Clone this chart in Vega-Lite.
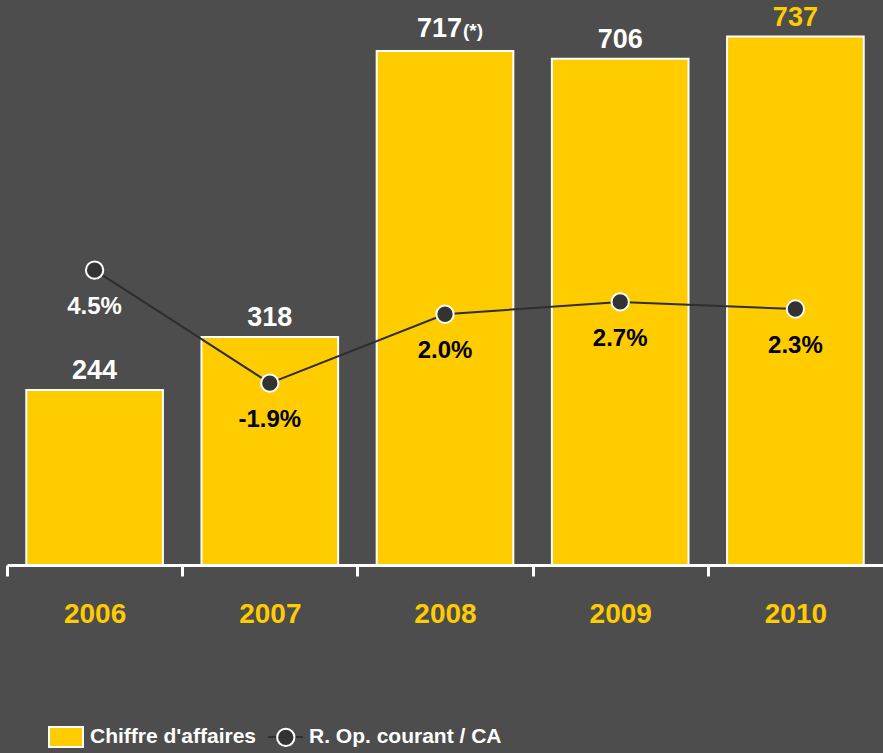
{
  "$schema": "https://vega.github.io/schema/vega-lite/v6.json",
  "width": 876,
  "height": 565,
  "autosize": {"type": "none"},
  "padding": {"left": 7, "top": 0, "right": 0, "bottom": 188},
  "background": "#4d4d4d",
  "config": {"view": {"stroke": null}, "font": "Liberation Sans"},
  "data": {
    "values": [
      {"year": "2006", "ca": 244, "caLabel": "244", "note": "", "pct": 4.5, "pctLabel": "4.5%"},
      {"year": "2007", "ca": 318, "caLabel": "318", "note": "", "pct": -1.9, "pctLabel": "-1.9%"},
      {"year": "2008", "ca": 717, "caLabel": "717", "note": "(*)", "pct": 2.0, "pctLabel": "2.0%"},
      {"year": "2009", "ca": 706, "caLabel": "706", "note": "", "pct": 2.7, "pctLabel": "2.7%"},
      {"year": "2010", "ca": 737, "caLabel": "737", "note": "", "pct": 2.3, "pctLabel": "2.3%"}
    ]
  },
  "resolve": {"scale": {"y": "independent"}},
  "layer": [
    {
      "encoding": {
        "x": {
          "field": "year", "type": "nominal",
          "scale": {"paddingInner": 0.22, "paddingOuter": 0.11},
          "axis": {
            "title": null, "labelAngle": 0,
            "domainColor": "white", "domainWidth": 3,
            "tickColor": "white", "tickWidth": 3, "tickSize": 11,
            "tickOffset": -87.6, "labelOffset": 87.6,
            "labelColor": "#FFCC00", "labelFont": "Liberation Sans", "labelFontWeight": "bold",
            "labelFontSize": 28, "labelPadding": 24
          }
        },
        "y": {"field": "ca", "type": "quantitative", "scale": {"domain": [0, 788]}, "axis": null}
      },
      "layer": [
        {
          "mark": {"type": "bar", "stroke": "white", "strokeWidth": 2},
          "encoding": {
            "color": {
              "datum": "Chiffre d'affaires",
              "scale": {"range": ["#FFCC00"]},
              "legend": {
                "title": null, "orient": "none", "legendX": 41, "legendY": 719, "padding": 0,
                "symbolType": "M-1,-0.59H1V0.59H-1Z", "symbolSize": 1156,
                "symbolStrokeColor": "white", "symbolStrokeWidth": 2, "symbolOpacity": 1,
                "labelColor": "white", "labelFont": "Liberation Sans", "labelFontWeight": "bold",
                "labelFontSize": 21, "labelOffset": 6, "labelLimit": 400
              }
            }
          }
        },
        {
          "transform": [{"filter": "datum.note === ''"}],
          "mark": {"type": "text", "fontSize": 27, "fontWeight": "bold", "dy": -11, "baseline": "alphabetic"},
          "encoding": {
            "text": {"field": "caLabel"},
            "color": {"condition": {"test": "datum.year === '2010'", "value": "#FFCC00"}, "value": "white"}
          }
        },
        {
          "transform": [{"filter": "datum.note !== ''"}],
          "mark": {"type": "text", "fontSize": 27, "fontWeight": "bold", "dy": -14, "dx": 17, "align": "right", "baseline": "alphabetic", "color": "white"},
          "encoding": {"text": {"field": "caLabel"}}
        },
        {
          "transform": [{"filter": "datum.note !== ''"}],
          "mark": {"type": "text", "fontSize": 19, "fontWeight": "bold", "dy": -14, "dx": 18, "align": "left", "baseline": "alphabetic", "color": "white"},
          "encoding": {"text": {"field": "note"}}
        }
      ]
    },
    {
      "encoding": {
        "x": {"field": "year", "type": "nominal"},
        "y": {"field": "pct", "type": "quantitative", "scale": {"domain": [-12.2, 19.8]}, "axis": null}
      },
      "layer": [
        {
          "mark": {"type": "line", "strokeWidth": 2},
          "encoding": {
            "stroke": {
              "datum": "R. Op. courant / CA",
              "scale": {"range": ["#2e2e2e"]},
              "legend": {
                "title": null, "orient": "none", "legendX": 260, "legendY": 718.5, "padding": 0,
                "symbolType": "M-1,0H1", "symbolSize": 1225, "symbolStrokeWidth": 2,
                "labelColor": "white", "labelFont": "Liberation Sans", "labelFontWeight": "bold",
                "labelFontSize": 21, "labelOffset": 5, "labelLimit": 400
              }
            }
          }
        },
        {
          "mark": {"type": "point", "filled": true, "stroke": "white", "strokeWidth": 2, "size": 300, "opacity": 1},
          "encoding": {
            "fill": {
              "datum": "marker",
              "scale": {"range": ["#333333"]},
              "legend": {
                "title": null, "orient": "none", "legendX": 268.8, "legendY": 727.3, "padding": 0,
                "symbolType": "circle", "symbolSize": 300, "symbolStrokeColor": "white", "symbolStrokeWidth": 2,
                "symbolOpacity": 1, "labelExpr": "''", "labelFontSize": 1
              }
            }
          }
        },
        {
          "mark": {"type": "text", "fontSize": 24, "fontWeight": "bold", "dy": 37, "baseline": "middle"},
          "encoding": {
            "text": {"field": "pctLabel"},
            "color": {"condition": {"test": "datum.year === '2006'", "value": "white"}, "value": "black"}
          }
        }
      ]
    }
  ]
}
